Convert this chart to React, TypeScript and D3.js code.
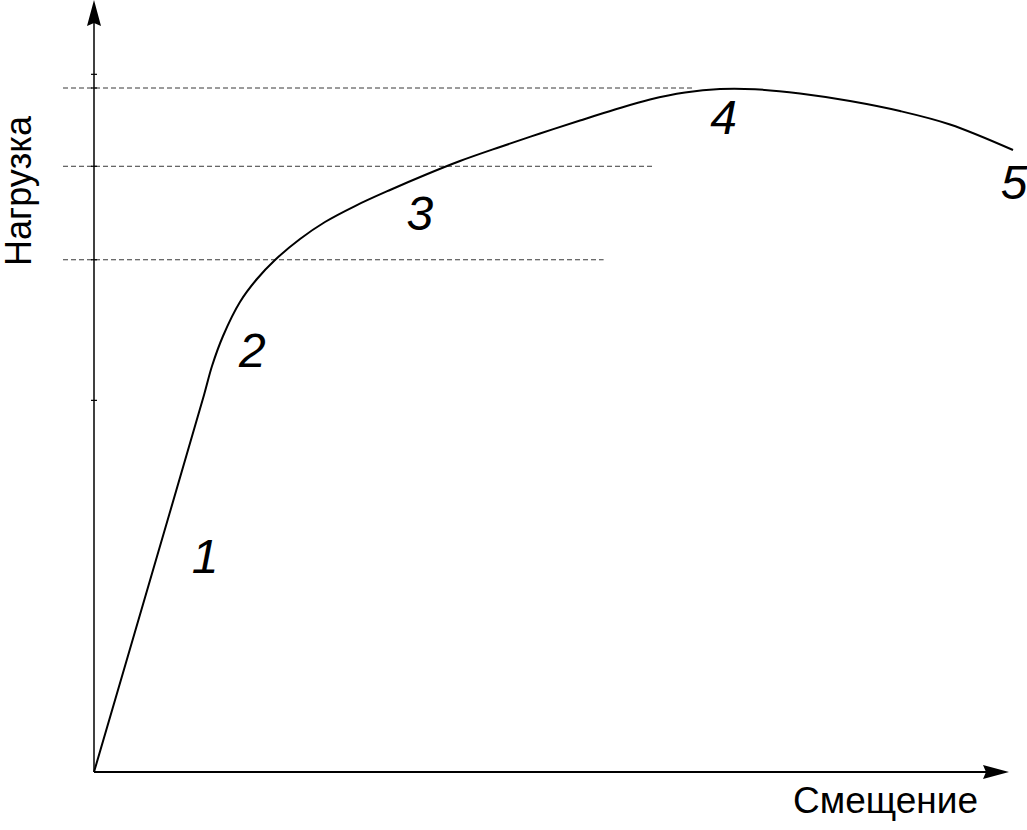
import * as d3 from "d3";

// load–displacement curve (arbitrary units)
const displacement = [0, 6.15, 12.09, 12.97, 14.18, 16.04, 17.91, 19.89, 22.64, 25.38, 28.68, 32.53, 36.37, 40.22, 44.62, 49.01, 53.41, 57.25, 61.1, 64.95, 68.79, 72.64, 77.58, 83.08, 88.57, 94.07, 100.99];
const load = [0, 25.2, 49.61, 53.42, 57.37, 61.84, 64.87, 67.37, 70.13, 72.37, 74.47, 76.58, 78.55, 80.39, 82.24, 84.01, 85.72, 87.17, 88.49, 89.41, 89.87, 89.84, 89.28, 88.29, 86.97, 85.2, 81.84];

// dashed reference levels and how far they run
const refLoads = [90.0, 79.7, 67.4];
const refEnds = [66, 61.5, 56];

// small marks on the load axis
const axisTicks = [91.8, 90.0, 79.7, 67.4, 48.9];

// stage labels
const stageLabels = ["1", "2", "3", "4", "5"];
const stageX = [12.2, 17.4, 35.8, 69.2, 101.1];
const stageY = [26.2, 53.3, 71.3, 83.9, 75.4];

const W = 1027;
const H = 830;
const FONT = "'Liberation Sans', Arial, Helvetica, sans-serif";

export default function App() {
  const x = d3.scaleLinear().domain([0, 100]).range([94, 1004]);
  const y = d3.scaleLinear().domain([0, 100]).range([772, 12]);

  const line = d3
    .line<number>()
    .x((_, i) => x(displacement[i]))
    .y((_, i) => y(load[i]))
    .curve(d3.curveCatmullRom.alpha(0.5));

  const x0 = x(0);
  const y0 = y(0);

  return (
    <>
      <style>{`body{margin:0;background:#fff}`}</style>
      <svg width={W} height={H} style={{ display: "block" }} fontFamily={FONT}>
        <rect width={W} height={H} fill="#fff" />

        {/* dashed reference levels */}
        {refLoads.map((v, i) => (
          <line
            key={"ref" + i}
            x1={x0 - 31}
            x2={x(refEnds[i])}
            y1={y(v)}
            y2={y(v)}
            stroke="#222"
            strokeWidth={0.9}
            strokeDasharray="5,3"
          />
        ))}

        {/* axes */}
        <line x1={x0} x2={x0} y1={y0} y2={22} stroke="#000" strokeWidth={1.5} />
        <path d={`M${x0},0 L${x0 + 7},26 L${x0},23 L${x0 - 7},26 Z`} fill="#000" />
        <line x1={x0} x2={986} y1={y0} y2={y0} stroke="#000" strokeWidth={2} />
        <path d={`M1009,${y0} L983,${y0 - 7} L986,${y0} L983,${y0 + 7} Z`} fill="#000" />

        {axisTicks.map((v, i) => (
          <line
            key={"t" + i}
            x1={x0 - 3}
            x2={x0 + 3}
            y1={y(v)}
            y2={y(v)}
            stroke="#000"
            strokeWidth={1.2}
          />
        ))}

        {/* curve */}
        <path d={line(displacement) || ""} fill="none" stroke="#000" strokeWidth={2} />

        {/* stage numbers */}
        {stageLabels.map((s, i) => (
          <text
            key={"s" + i}
            x={x(stageX[i])}
            y={y(stageY[i])}
            fontSize={48}
            fontStyle="italic"
            textAnchor="middle"
            fill="#000"
          >
            {s}
          </text>
        ))}

        {/* axis titles */}
        <text
          transform="translate(31,191) rotate(-90)"
          fontSize={36}
          textAnchor="middle"
          fill="#000"
        >
          Нагрузка
        </text>
        <text x={978} y={813} fontSize={37} textAnchor="end" fill="#000">
          Смещение
        </text>
      </svg>
    </>
  );
}
